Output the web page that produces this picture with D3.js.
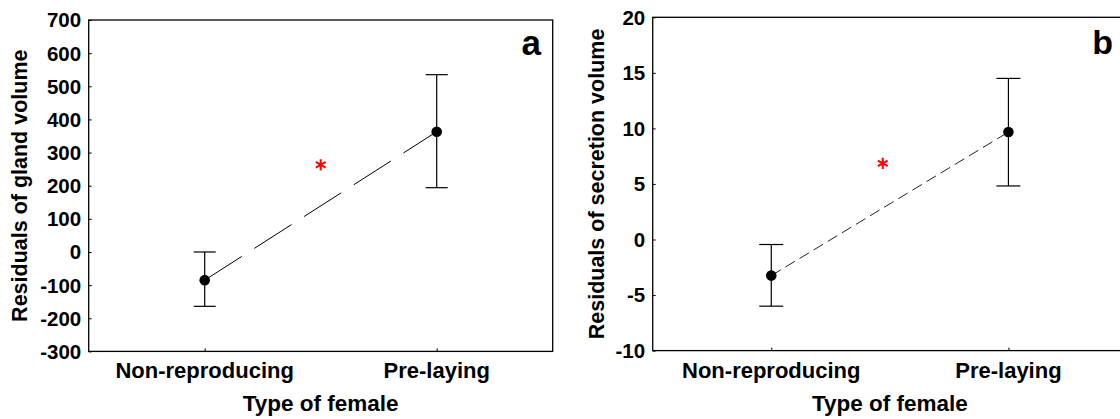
<!DOCTYPE html>
<html>
<head>
<meta charset="utf-8">
<script src="https://cdn.jsdelivr.net/npm/d3@7"></script>
<style>
  html, body { margin: 0; padding: 0; background: #fff; }
  svg { display: block; }
  text { font-family: "Liberation Sans", Arial, sans-serif; font-weight: bold; fill: #000; }
</style>
</head>
<body>
<svg id="chart" width="1120" height="419"></svg>
<script>
// ---- data ----
const categories = ["Non-reproducing", "Pre-laying"];

const glandMean  = [-85, 363];
const glandLower = [-164, 194];
const glandUpper = [0, 535];
const glandTicks = [-300, -200, -100, 0, 100, 200, 300, 400, 500, 600, 700];

const secretionMean  = [-3.25, 9.67];
const secretionLower = [-6.0, 4.82];
const secretionUpper = [-0.45, 14.5];
const secretionTicks = [-10, -5, 0, 5, 10, 15, 20];

const panelLetters = ["a", "b"];
const yTitles = ["Residuals of gland volume", "Residuals of secretion volume"];
const xTitle = "Type of female";
const sigValues = [263, 6.85];     // y value of the significance asterisk
const sigBetween = [0.5, 0.47];    // fraction between the two categories

// ---- layout ----
const svg = d3.select("#chart");

const panels = [
  { left: 88.7, right: 552.7, top: 20, bottom: 351.4, domain: [-300, 700], ticks: glandTicks,
    mean: glandMean, lower: glandLower, upper: glandUpper, dash: "44,15", lineColor: "#000",
    cap: 11, titleX: 27, letterX: 541, letterY: 55, letterSize: 35, sig: sigValues[0], sigF: sigBetween[0],
    yTitle: yTitles[0], letter: panelLetters[0] },
  { left: 652.7, right: 1127, top: 17.3, bottom: 350.6, domain: [-10, 20], ticks: secretionTicks,
    mean: secretionMean, lower: secretionLower, upper: secretionUpper, dash: "11,5.5", lineColor: "#222",
    cap: 12, titleX: 604, letterX: 1113, letterY: 53.5, letterSize: 34, sig: sigValues[1], sigF: sigBetween[1],
    yTitle: yTitles[1], letter: panelLetters[1] }
];

panels.forEach(p => {
  const g = svg.append("g");
  const x = d3.scalePoint().domain(categories).range([p.left, p.right]).padding(0.5);
  const y = d3.scaleLinear().domain(p.domain).range([p.bottom, p.top]);

  // frame
  g.append("rect")
    .attr("x", p.left).attr("y", p.top)
    .attr("width", p.right - p.left).attr("height", p.bottom - p.top)
    .attr("fill", "none").attr("stroke", "#000").attr("stroke-width", 1.3);

  // y axis (inward ticks, labels outside)
  const yAxis = g.append("g").attr("transform", `translate(${p.left},0)`)
    .call(d3.axisRight(y).tickValues(p.ticks).tickSize(3).tickFormat(""));
  yAxis.select(".domain").remove();
  yAxis.selectAll("line").attr("stroke", "#000");
  g.selectAll(".ytl").data(p.ticks).enter().append("text")
    .attr("class", "ytl")
    .attr("x", p.left - 7.5)
    .attr("y", d => y(d))
    .attr("dy", "0.36em")
    .attr("text-anchor", "end")
    .style("font-size", "20.5px")
    .text(d => d);

  // x axis (inward ticks)
  const xAxis = g.append("g").attr("transform", `translate(0,${p.bottom})`)
    .call(d3.axisTop(x).tickSize(3).tickFormat(""));
  xAxis.select(".domain").remove();
  xAxis.selectAll("line").attr("stroke", "#000");
  g.selectAll(".xtl").data(categories).enter().append("text")
    .attr("class", "xtl")
    .attr("x", d => x(d))
    .attr("y", 377.5)
    .attr("text-anchor", "middle")
    .style("font-size", "22px")
    .text(d => d);

  // axis titles
  g.append("text")
    .attr("x", (p.left + p.right) / 2)
    .attr("y", 411)
    .attr("text-anchor", "middle")
    .style("font-size", "22.5px")
    .text(xTitle);
  g.append("text")
    .attr("transform", `translate(${p.titleX},${(p.top + p.bottom) / 2}) rotate(-90)`)
    .attr("text-anchor", "middle")
    .style("font-size", "21.5px")
    .text(p.yTitle);

  // panel letter
  g.append("text")
    .attr("x", p.letterX).attr("y", p.letterY)
    .attr("text-anchor", "end")
    .style("font-size", p.letterSize + "px")
    .text(p.letter);

  // connecting dashed line
  const pts = categories.map((c, i) => [x(c), y(p.mean[i])]);
  g.append("path")
    .attr("d", d3.line()(pts))
    .attr("fill", "none")
    .attr("stroke", p.lineColor)
    .attr("stroke-width", 1)
    .attr("stroke-dasharray", p.dash);

  // error bars
  categories.forEach((c, i) => {
    const cx = x(c);
    g.append("line").attr("x1", cx).attr("x2", cx)
      .attr("y1", y(p.lower[i])).attr("y2", y(p.upper[i]))
      .attr("stroke", "#000").attr("stroke-width", 1.2);
    [p.lower[i], p.upper[i]].forEach(v => {
      g.append("line").attr("x1", cx - p.cap).attr("x2", cx + p.cap)
        .attr("y1", y(v)).attr("y2", y(v))
        .attr("stroke", "#000").attr("stroke-width", 1.2);
    });
  });

  // points
  g.selectAll(".pt").data(categories).enter().append("circle")
    .attr("class", "pt")
    .attr("cx", d => x(d))
    .attr("cy", (d, i) => y(p.mean[i]))
    .attr("r", 5.3)
    .attr("fill", "#000");

  // significance asterisk
  const sx = x(categories[0]) + p.sigF * (x(categories[1]) - x(categories[0]));
  g.append("path")
    .attr("transform", `translate(${sx},${y(p.sig)})`)
    .attr("d", d3.symbol(d3.symbolAsterisk, 90)())
    .attr("fill", "none")
    .attr("stroke", "#ff0000")
    .attr("stroke-width", 2);
});
</script>
</body>
</html>
